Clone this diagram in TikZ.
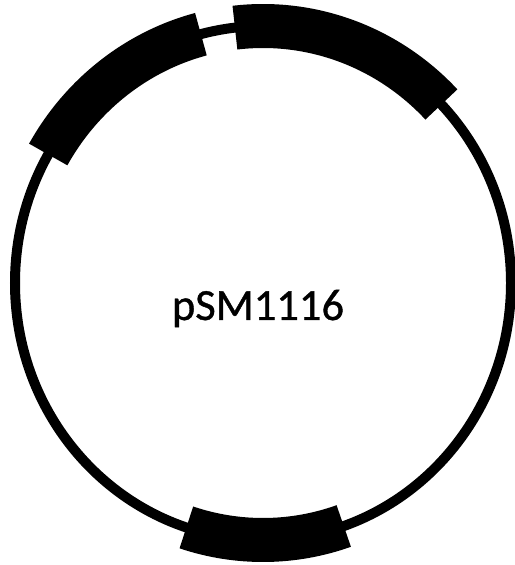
\documentclass[tikz,border=0pt]{standalone}
\usepackage{fontspec}
\newfontfamily\namefont[FakeBold=0.9]{Carlito}
\tikzset{
  backbone/.style={draw=black, line width=0.3cm},
  gene/.style={draw=black, line width=1.32cm},
  plasmidname/.style={font=\namefont\fontsize{38}{38}\selectfont, anchor=base},
}
\begin{document}
\begin{tikzpicture}[x=0.03cm, y=0.03cm]
  \useasboundingbox (0,0) rectangle (515,565);
  \coordinate (ori) at (263,282);
  % backbone of the plasmid
  \draw[backbone] (ori) ellipse [x radius=248, y radius=257];
  % inserted genes
  \foreach \a/\b in {96.5/44, 150/104.5, 252/289}
    \draw[gene] (ori) ++(\a:248 and 257)
      arc[start angle=\a, end angle=\b, x radius=248, y radius=257];
  \node[plasmidname] (name) at (258,245) {pSM1116};
\end{tikzpicture}
\end{document}
